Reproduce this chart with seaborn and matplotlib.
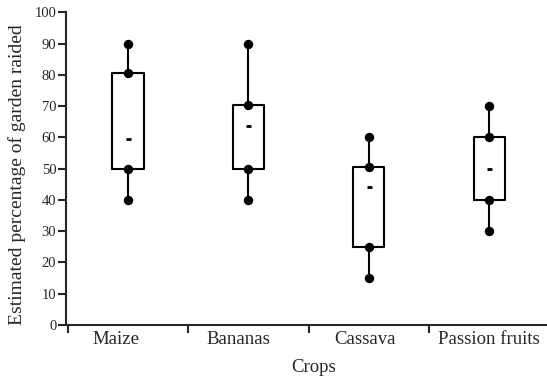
import matplotlib
matplotlib.use("Agg")
import matplotlib.pyplot as plt
import seaborn as sns
import pandas as pd

crops = ["Maize", "Bananas", "Cassava", "Passion fruits"]
max_vals = [90, 90, 60, 70]
q3_vals = [80.5, 70.5, 50.5, 60]
mean_vals = [59.5, 63.5, 44, 50]
q1_vals = [50, 50, 25, 40]
min_vals = [40, 40, 15, 30]
yticks = list(range(0, 101, 10))

# long tables
box_rows = []
pt_rows = []
for c, mn, a, md, b, mx in zip(crops, min_vals, q1_vals, mean_vals, q3_vals, max_vals):
    for v in (mn, a, md, b, mx):
        box_rows.append({"crop": c, "value": v})
    for v in (mn, a, b, mx):
        pt_rows.append({"crop": c, "value": v})
df_box = pd.DataFrame(box_rows)
df_pts = pd.DataFrame(pt_rows)
df_mean = pd.DataFrame({"crop": crops, "value": mean_vals})

sns.set_style("ticks")
plt.rcParams["font.family"] = ["Liberation Serif", "DejaVu Serif"]

fig = plt.figure(figsize=(5.47, 3.83), dpi=100)
ax = fig.add_axes([0.1207, 0.1514, 0.8793, 0.8166])

sns.boxplot(data=df_box, x="crop", y="value", order=crops, whis=(0, 100),
            width=0.26, fill=False, color="black", linewidth=1.5,
            showcaps=False, showfliers=False,
            medianprops={"visible": False}, ax=ax, zorder=2)
sns.stripplot(data=df_pts, x="crop", y="value", order=crops, jitter=False,
              color="black", size=6.8, ax=ax, zorder=3)
sns.stripplot(data=df_mean, x="crop", y="value", order=crops, jitter=False,
              color="black", marker="_", size=3.6, linewidth=2, ax=ax, zorder=3)

ax.set_ylim(0, 100)
ax.set_yticks(yticks)
ax.set_yticklabels([str(t) for t in yticks], fontsize=10.5)
ax.set_xlim(-0.515, 3.48)
ax.set_xticks([-0.1, 0.92, 1.97, 3.0])
ax.set_xticklabels(crops, fontsize=13.5)
ax.set_xticks([-0.5, 0.5, 1.5, 2.5], minor=True)
ax.tick_params(axis="x", which="major", length=0, pad=4)
ax.tick_params(axis="x", which="minor", length=6, width=1.5, direction="out")
ax.tick_params(axis="y", length=6, width=1.5, pad=1, direction="out")
for s in ("top", "right"):
    ax.spines[s].set_visible(False)
for s in ("left", "bottom"):
    ax.spines[s].set_linewidth(1.5)
ax.set_xlabel("Crops", fontsize=13.5)
ax.set_ylabel("Estimated percentage of garden raided", fontsize=14)
ax.xaxis.set_label_coords(0.5146, -0.108)
ax.yaxis.set_label_coords(-0.083, 0.482)

fig.savefig("out.png", dpi=100)
